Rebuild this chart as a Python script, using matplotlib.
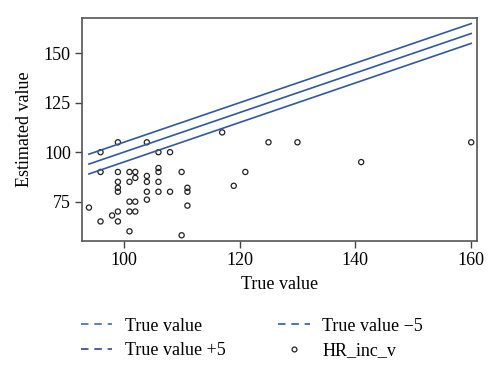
import numpy as np
import matplotlib
matplotlib.use("Agg")
from matplotlib import pyplot as plt
from matplotlib.lines import Line2D

plt.rcParams['font.family'] = ['Liberation Serif', 'DejaVu Serif']

# reference lines span
true_range = [94, 160]

# scatter data: HR_inc_v
true_vals = [94, 96, 96, 96, 98, 99, 99, 99, 99, 99, 99, 99,
             101, 101, 101, 101, 101, 102, 102, 102, 102,
             104, 104, 104, 104, 104, 106, 106, 106, 106, 106,
             108, 108, 110, 110, 111, 111, 111,
             117, 119, 121, 125, 130, 141, 160]
est_vals = [72, 100, 90, 65, 68, 105, 90, 85, 82, 80, 70, 65,
            90, 85, 75, 70, 60, 90, 87, 75, 70,
            105, 88, 85, 80, 76, 100, 92, 90, 85, 80,
            100, 80, 90, 58, 82, 80, 73,
            110, 83, 90, 105, 105, 95, 105]

x_ticks = [100, 120, 140, 160]
y_ticks = [75, 100, 125, 150]

line_color = '#2e5aa3'

fig = plt.figure(figsize=(5.0, 3.76), dpi=100)
ax = fig.add_axes([0.164, 0.359, 0.790, 0.593])

xr = np.array(true_range)
ax.plot(xr, xr + 5, color=line_color, lw=1.2)
ax.plot(xr, xr, color=line_color, lw=1.2)
ax.plot(xr, xr - 5, color=line_color, lw=1.2)
ax.scatter(true_vals, est_vals, s=14, facecolors='none', edgecolors='#222222', linewidths=0.9)

ax.set_xlim(92.8, 161.0)
ax.set_ylim(55.1, 167.8)
ax.set_xticks(x_ticks)
ax.set_yticks(y_ticks)
ax.tick_params(direction='out', length=5, width=1, color='#444444', labelsize=13, pad=3)
for sp in ax.spines.values():
    sp.set_color('#555555')
    sp.set_linewidth(1.2)

ax.set_xlabel('True value', fontsize=13, labelpad=5)
ax.set_ylabel('Estimated value', fontsize=13, labelpad=8)

dash = (0, (4.5, 3.5))
handles = [
    Line2D([], [], color='#3b6cc2', ls=dash, lw=1.2),
    Line2D([], [], color='#3b3f92', ls=dash, lw=1.2),
    Line2D([], [], color='#2e5aa3', ls=dash, lw=1.2),
    Line2D([], [], color='#222222', ls='none', marker='o', markersize=3.5,
           markerfacecolor='none', markeredgewidth=0.9),
]
labels = ['True value', 'True value +5', 'True value \u22125', 'HR_inc_v']
fig.legend(handles, labels, ncol=2, loc='center', bbox_to_anchor=(0.504, 0.1),
           frameon=False, fontsize=13, handlelength=1.75, handletextpad=0.7,
           columnspacing=2.9, labelspacing=0.4)

fig.savefig('out.png', dpi=100)
